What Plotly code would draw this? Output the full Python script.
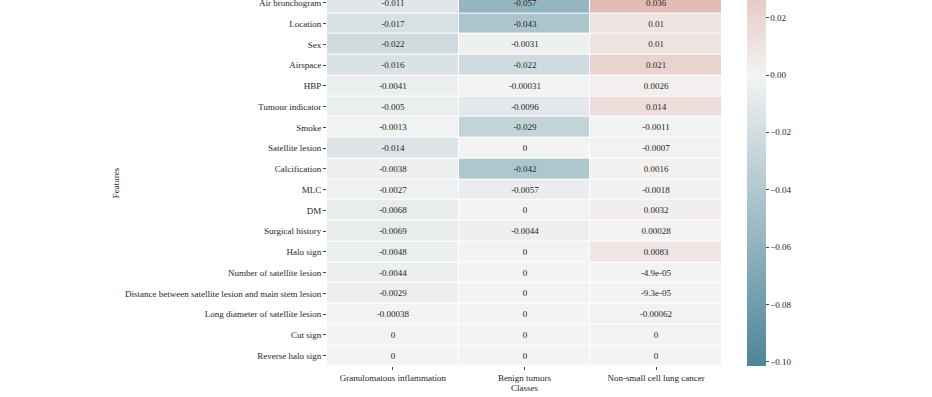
import plotly.graph_objects as go

features = ["Air bronchogram", "Location", "Sex", "Airspace", "HBP", "Tumour indicator",
            "Smoke", "Satellite lesion", "Calcification", "MLC", "DM", "Surgical history",
            "Halo sign", "Number of satellite lesion",
            "Distance between satellite lesion and main stem lesion",
            "Long diameter of satellite lesion", "Cut sign", "Reverse halo sign"]
classes = ["Granulomatous inflammation", "Benign tumors", "Non-small cell lung cancer"]

granulomatous = [-0.011, -0.017, -0.022, -0.016, -0.0041, -0.005, -0.0013, -0.014, -0.0038,
                 -0.0027, -0.0068, -0.0069, -0.0048, -0.0044, -0.0029, -0.00038, 0, 0]
benign = [-0.057, -0.043, -0.0031, -0.022, -0.00031, -0.0096, -0.029, 0, -0.042,
          -0.0057, 0, -0.0044, 0, 0, 0, 0, 0, 0]
nsclc = [0.036, 0.01, 0.01, 0.021, 0.0026, 0.014, -0.0011, -0.0007, 0.0016,
         -0.0018, 0.0032, 0.00028, 0.0083, -4.9e-05, -9.3e-05, -0.00062, 0, 0]

colorbar_ticks = [0.02, 0.0, -0.02, -0.04, -0.06, -0.08, -0.10]
vmin = -0.1015
vmax = 0.1015

z = [[g, b, n] for g, b, n in zip(granulomatous, benign, nsclc)]
text = [[format(v, "g") for v in row] for row in z]

FONT = "Liberation Serif"
TXT = "#262626"

fig = go.Figure(go.Heatmap(
    z=z, x=classes, y=features, text=text, texttemplate="%{text}",
    textfont=dict(family=FONT, size=9, color=TXT),
    zmin=vmin, zmax=vmax,
    colorscale=[[0.0, "#4c8699"], [0.5, "#f3f3f3"], [1.0, "#c65a43"]],
    xgap=1, ygap=1,
    colorbar=dict(
        thickness=19, thicknessmode="pixels",
        len=(vmax - vmin) * 2867, lenmode="pixels",
        x=1.0633, xanchor="left", xpad=0,
        y=0, yanchor="bottom", ypad=0,
        outlinewidth=0,
        tickvals=colorbar_ticks, tickformat=".2f",
        ticks="outside", ticklen=3, tickcolor="#444",
        tickfont=dict(family=FONT, size=9, color=TXT),
    ),
))

fig.update_layout(
    width=932, height=397,
    margin=dict(l=327, r=210, t=0, b=31, pad=0, autoexpand=False),
    paper_bgcolor="white", plot_bgcolor="white",
    font=dict(family=FONT, size=9, color=TXT),
)
fig.update_yaxes(
    range=[17.5, -0.144], ticks="outside", ticklen=3, tickcolor="#444",
    showgrid=False, zeroline=False, showline=False, automargin=False,
    tickfont=dict(family=FONT, size=9, color=TXT),
    title=dict(text="Features", standoff=3, font=dict(family=FONT, size=9, color=TXT)),
)
fig.update_xaxes(
    ticks="outside", ticklen=3, tickcolor="#444",
    showgrid=False, zeroline=False, showline=False, automargin=False,
    tickfont=dict(family=FONT, size=9, color=TXT),
    title=dict(text="Classes", standoff=2, font=dict(family=FONT, size=9, color=TXT)),
)

fig.write_html(
    "out.html",
    config={"displayModeBar": False},
    post_script="document.body.style.margin='0';document.body.style.overflow='hidden';",
)
